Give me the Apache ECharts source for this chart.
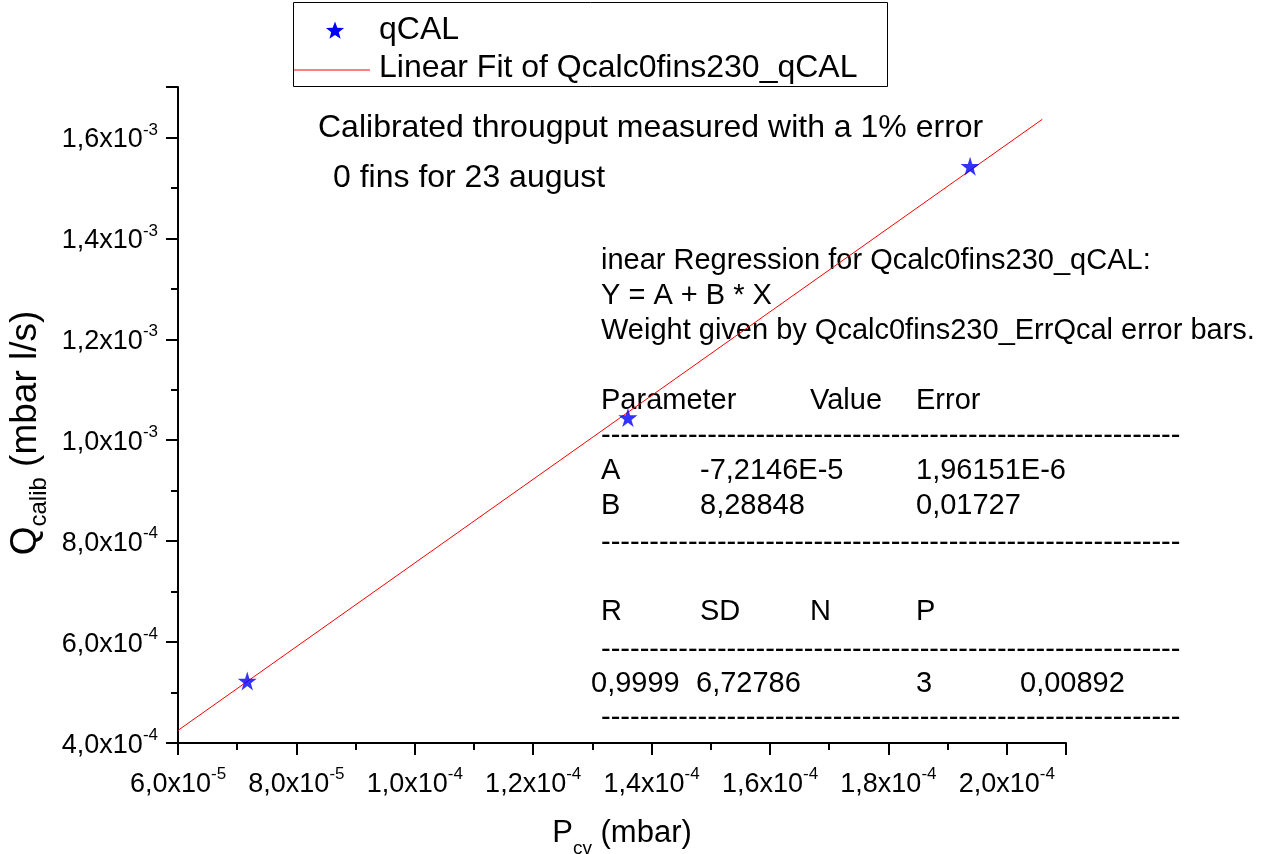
<!DOCTYPE html>
<html>
<head>
<meta charset="utf-8">
<script src="https://cdn.jsdelivr.net/npm/echarts@6/dist/echarts.min.js"></script>
<style>
  html, body { margin: 0; padding: 0; background: #fff; }
  #chart { width: 1263px; height: 854px; }
</style>
</head>
<body>
<div id="chart"></div>
<script>
// ---- data ----
const pressure = [7.17e-5, 1.360e-4, 1.938e-4];          // P_cv (mbar)
const qCalib   = [5.23e-4, 1.045e-3, 1.543e-3];          // Q_calib (mbar l/s)
const fitX     = [6.0e-5, 2.06e-4];                      // linear fit end points
const fitY     = [4.25e-4, 1.636e-3];

const xTicks      = [6e-5, 8e-5, 1.0e-4, 1.2e-4, 1.4e-4, 1.6e-4, 1.8e-4, 2.0e-4];
const xTickLabels = ['6,0x10^-5', '8,0x10^-5', '1,0x10^-4', '1,2x10^-4', '1,4x10^-4', '1,6x10^-4', '1,8x10^-4', '2,0x10^-4'];
const yTicks      = [4e-4, 6e-4, 8e-4, 1.0e-3, 1.2e-3, 1.4e-3, 1.6e-3];
const yTickLabels = ['4,0x10^-4', '6,0x10^-4', '8,0x10^-4', '1,0x10^-3', '1,2x10^-3', '1,4x10^-3', '1,6x10^-3'];

const seriesNames = ['qCAL', 'Linear Fit of Qcalc0fins230_qCAL'];
const noteLines   = ['Calibrated througput measured with a 1% error', '0 fins for 23 august'];
const regHeader   = ['inear Regression for Qcalc0fins230_qCAL:', 'Y = A + B * X', 'Weight given by Qcalc0fins230_ErrQcal error bars.'];
const paramHead   = ['Parameter', 'Value', 'Error'];
const paramA      = ['A', '-7,2146E-5', '1,96151E-6'];
const paramB      = ['B', '8,28848', '0,01727'];
const statHead    = ['R', 'SD', 'N', 'P'];
const statVals    = ['0,9999', '6,72786', '3', '0,00892'];

// ---- helpers ----
const FONT = '"Liberation Sans", Arial, sans-serif';
function tickFormatter(ticks, labels) {
  return function (v) {
    for (let i = 0; i < ticks.length; i++) {
      if (Math.abs(v - ticks[i]) < ticks[i] * 1e-6) {
        const p = labels[i].split('^');
        return '{m|' + p[0] + '}{e|' + p[1] + '}';
      }
    }
    return '';
  };
}
const tickRich = {
  m: { fontSize: 27, fontFamily: FONT, color: '#000', lineHeight: 32, verticalAlign: 'bottom' },
  e: { fontSize: 17, fontFamily: FONT, color: '#000', lineHeight: 20, verticalAlign: 'top' }
};
const starPath = 'path://M50,0 L61,35 L98,35 L68,57 L79,91 L50,70 L21,91 L32,57 L2,35 L39,35 Z';

function txt(x, y, s, size, align) {
  return { type: 'text', x: x, y: y, silent: true,
    style: { text: s, fill: '#000', font: size + 'px ' + FONT, align: align || 'left', verticalAlign: 'middle' } };
}
function starPoints(cx, cy, r) {
  const pts = [];
  for (let k = 0; k < 10; k++) {
    const rr = k % 2 === 0 ? r : r * 0.42;
    const a = -Math.PI / 2 + k * Math.PI / 5;
    pts.push([cx + rr * Math.cos(a), cy + rr * Math.sin(a)]);
  }
  return pts;
}
const DASHES = '-'.repeat(60);
const RS = 29; // regression text size
const NS = 32; // notes / legend text size

const graphics = [
  // legend box
  { type: 'rect', shape: { x: 293.5, y: 2.5, width: 594, height: 84 }, style: { fill: '#fff', stroke: '#000', lineWidth: 1 } },
  { type: 'polygon', shape: { points: starPoints(335, 31, 9.5) }, style: { fill: '#0000ff' } },
  txt(379, 30, seriesNames[0], NS),
  { type: 'line', shape: { x1: 294, y1: 70, x2: 370, y2: 70 }, style: { stroke: '#ff0000', lineWidth: 1 } },
  txt(379, 68, seriesNames[1], NS),
  // notes
  txt(318, 128, noteLines[0], NS),
  txt(333, 178, noteLines[1], NS),
  // regression block
  txt(601, 261, regHeader[0], RS),
  txt(601, 296, regHeader[1], RS),
  txt(601, 331, regHeader[2], RS),
  txt(601, 401, paramHead[0], RS), txt(810, 401, paramHead[1], RS), txt(916, 401, paramHead[2], RS),
  txt(601, 436, DASHES, RS),
  txt(601, 471, paramA[0], RS), txt(700, 471, paramA[1], RS), txt(916, 471, paramA[2], RS),
  txt(601, 506, paramB[0], RS), txt(700, 506, paramB[1], RS), txt(916, 506, paramB[2], RS),
  txt(601, 543, DASHES, RS),
  txt(601, 612, statHead[0], RS), txt(700, 612, statHead[1], RS), txt(810, 612, statHead[2], RS), txt(916, 612, statHead[3], RS),
  txt(601, 650, DASHES, RS),
  txt(591, 684, statVals[0], RS), txt(696, 684, statVals[1], RS), txt(916, 684, statVals[2], RS), txt(1020, 684, statVals[3], RS),
  txt(601, 718, DASHES, RS)
];

const chart = echarts.init(document.getElementById('chart'), null, { renderer: 'canvas' });
chart.setOption({
  backgroundColor: '#fff',
  animation: false,
  grid: { left: 178, top: 87, width: 888, height: 656, containLabel: false, outerBoundsMode: 'none' },
  xAxis: {
    type: 'value', min: 6e-5, max: 2.1e-4, interval: 2e-5,
    splitLine: { show: false },
    axisLine: { onZero: false, lineStyle: { color: '#000', width: 2 } },
    axisTick: { inside: false, length: 12, lineStyle: { color: '#000', width: 2 } },
    minorTick: { show: true, splitNumber: 2, length: 7, lineStyle: { color: '#000', width: 2 } },
    axisLabel: { showMaxLabel: false, margin: 23, formatter: tickFormatter(xTicks, xTickLabels), rich: tickRich },
    name: '{b|P}{s|cv}{b| (mbar)}',
    nameLocation: 'middle', nameGap: 75,
    nameTextStyle: { rich: {
      b: { fontSize: 31, fontFamily: FONT, color: '#000', lineHeight: 40, verticalAlign: 'top' },
      s: { fontSize: 19, fontFamily: FONT, color: '#000', lineHeight: 20, verticalAlign: 'bottom' } } }
  },
  yAxis: {
    type: 'value', min: 4e-4, max: 1.7e-3, interval: 2e-4,
    splitLine: { show: false },
    axisLine: { onZero: false, lineStyle: { color: '#000', width: 2 } },
    axisTick: { inside: false, length: 12, lineStyle: { color: '#000', width: 2 } },
    minorTick: { show: true, splitNumber: 2, length: 7, lineStyle: { color: '#000', width: 2 } },
    axisLabel: { showMaxLabel: false, margin: 20, formatter: tickFormatter(yTicks, yTickLabels), rich: tickRich },
    name: '{b|Q}{s|calib}{b| (mbar l/s)}{g|}',
    nameLocation: 'middle', nameGap: 127, nameRotate: 90,
    nameTextStyle: { rich: {
      b: { fontSize: 37, fontFamily: FONT, color: '#000', lineHeight: 44, verticalAlign: 'top' },
      s: { fontSize: 24, fontFamily: FONT, color: '#000', lineHeight: 24, verticalAlign: 'bottom' },
      g: { width: 36, fontSize: 10, lineHeight: 10 } } }
  },
  series: [
    {
      name: seriesNames[1], type: 'line', silent: true,
      data: fitX.map((x, i) => [x, fitY[i]]),
      symbol: 'none', lineStyle: { color: '#ff0000', width: 1 }, z: 2
    },
    {
      name: seriesNames[0], type: 'scatter', silent: true,
      data: pressure.map((x, i) => [x, qCalib[i]]),
      symbol: starPath, symbolSize: 19, itemStyle: { color: '#0000ff' }, z: 3
    }
  ],
  graphic: graphics
});
</script>
</body>
</html>
